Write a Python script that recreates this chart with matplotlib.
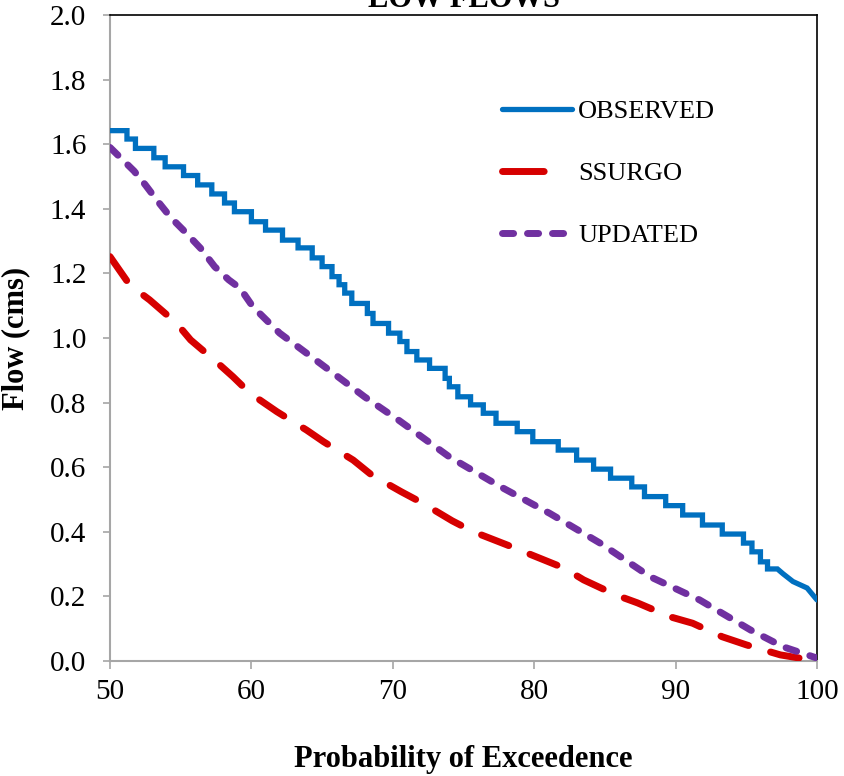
import matplotlib
matplotlib.use("Agg")
import matplotlib.pyplot as plt
from matplotlib.lines import Line2D
import numpy as np

# ---------------- data ----------------
x_ticks = [50, 60, 70, 80, 90, 100]
y_ticks = [0.0, 0.2, 0.4, 0.6, 0.8, 1.0, 1.2, 1.4, 1.6, 1.8, 2.0]

# OBSERVED: step levels (start of each step, level)
obs_step_x = [50.0, 51.2, 51.8, 53.1, 53.9, 55.2, 56.2, 57.2, 58.1, 58.8, 60.0, 61.0,
              62.2, 63.3, 64.3, 65.0, 65.7, 66.2, 66.6, 67.1, 68.2, 68.6, 69.7, 70.5,
              71.0, 71.7, 72.6, 73.7, 74.0, 74.6, 75.5, 76.4, 77.3, 78.8, 79.9, 81.7,
              83.0, 84.2, 85.4, 86.9, 87.8, 89.3, 90.5, 91.9, 93.3, 94.8, 95.4, 96.0,
              96.5, 97.2]
obs_level = [1.642, 1.616, 1.587, 1.558, 1.530, 1.503, 1.474, 1.446, 1.418, 1.391, 1.360,
             1.334, 1.303, 1.279, 1.248, 1.221, 1.190, 1.165, 1.139, 1.107, 1.076, 1.045,
             1.015, 0.989, 0.958, 0.932, 0.906, 0.875, 0.849, 0.818, 0.793, 0.767, 0.736,
             0.710, 0.679, 0.653, 0.622, 0.594, 0.566, 0.539, 0.509, 0.481, 0.452, 0.421,
             0.393, 0.365, 0.338, 0.307, 0.285]
obs_tail_x = [97.6, 98.3, 99.3, 100.0]
obs_tail_y = [0.270, 0.246, 0.226, 0.189]

ssurgo_x = [50.0, 51.4, 52.8, 54.7, 55.7, 57.5, 58.7, 59.9, 61.8, 63.9, 65.1, 67.2, 68.5,
            70.6, 72.1, 74.2, 75.7, 78.1, 79.5, 82.1, 83.5, 85.8, 87.3, 89.6, 91.2, 93.3,
            95.0, 97.4, 100.0]
ssurgo_y = [1.252, 1.164, 1.118, 1.046, 0.994, 0.927, 0.880, 0.829, 0.772, 0.715, 0.679,
            0.622, 0.576, 0.524, 0.489, 0.434, 0.400, 0.359, 0.334, 0.288, 0.251, 0.204,
            0.180, 0.137, 0.117, 0.075, 0.050, 0.019, 0.000]

updated_x = [50.0, 51.7, 52.5, 53.4, 54.3, 55.3, 56.4, 57.4, 58.4, 59.2, 60.1, 62.0, 63.9,
             65.7, 68.0, 70.4, 74.0, 77.6, 81.1, 84.7, 88.2, 91.7, 95.3, 97.6, 100.0]
updated_y = [1.590, 1.517, 1.474, 1.422, 1.373, 1.329, 1.278, 1.221, 1.180, 1.154, 1.097,
             1.015, 0.953, 0.894, 0.818, 0.746, 0.632, 0.540, 0.457, 0.364, 0.261, 0.189,
             0.096, 0.044, 0.009]

series_names = ["OBSERVED", "SSURGO", "UPDATED"]
colors = ["#0070C0", "#D60000", "#7030A0"]

# build observed staircase path
ox, oy = [], []
for i, lv in enumerate(obs_level):
    ox += [obs_step_x[i], obs_step_x[i + 1]]
    oy += [lv, lv]
ox += obs_tail_x
oy += obs_tail_y

# ---------------- figure ----------------
plt.rcParams['lines.scale_dashes'] = False
serif = ['Liberation Serif', 'DejaVu Serif']
fig = plt.figure(figsize=(8.44, 7.76), dpi=100)
ax = fig.add_axes([110/844, 1 - 661/776, (817 - 110)/844, (661 - 15)/776])

ax.plot(ox, oy, color=colors[0], lw=3.8, solid_capstyle='round', solid_joinstyle='miter', zorder=3)
ax.plot(ssurgo_x, ssurgo_y, color=colors[1], lw=5.0, dashes=(21, 16.5),
        dash_capstyle='round', zorder=3)
ax.plot(updated_x, updated_y, color=colors[2], lw=5.0, dashes=(8, 10),
        dash_capstyle='round', zorder=4)

ax.set_xlim(50, 100)
ax.set_ylim(0, 2.0)
ax.set_xticks(x_ticks)
ax.set_yticks(y_ticks)
ax.set_xticklabels([str(v) for v in x_ticks])
ax.set_yticklabels([f"{v:.1f}" for v in y_ticks])
for lab in ax.get_xticklabels() + ax.get_yticklabels():
    lab.set_family(serif)
    lab.set_fontsize(21)
    lab.set_color('#000000')

ax.tick_params(axis='y', direction='out', length=5, width=1.2, color='#A6A6A6', pad=12)
ax.tick_params(axis='x', direction='out', length=6, width=1.2, color='#A6A6A6', pad=7)

for s in ['left', 'bottom']:
    ax.spines[s].set_color('#A6A6A6')
    ax.spines[s].set_linewidth(1.5)
for s in ['top', 'right']:
    ax.spines[s].set_color('#000000')
    ax.spines[s].set_linewidth(1.2)

ax.set_ylabel("Flow (cms)", family=serif, fontsize=22, fontweight='bold', labelpad=14)
ax.set_xlabel("Probability of Exceedence", family=serif, fontsize=22, fontweight='bold', labelpad=29)
ax.set_title("LOW FLOWS", family=serif, fontsize=22, fontweight='bold', pad=6)

handles = [
    Line2D([], [], color=colors[0], lw=3.8, solid_capstyle='round'),
    Line2D([], [], color=colors[1], lw=5.0, dashes=(30, 200), dash_capstyle='round'),
    Line2D([], [], color=colors[2], lw=5.0, dashes=(8, 10), dash_capstyle='round'),
]
leg = ax.legend(handles, series_names, loc='upper left', bbox_to_anchor=(0.539, 0.885),
                frameon=False, prop={'family': serif, 'size': 19},
                handlelength=2.65, handletextpad=0.25, labelspacing=1.45, borderaxespad=0)

fig.savefig("out.png", dpi=100)
